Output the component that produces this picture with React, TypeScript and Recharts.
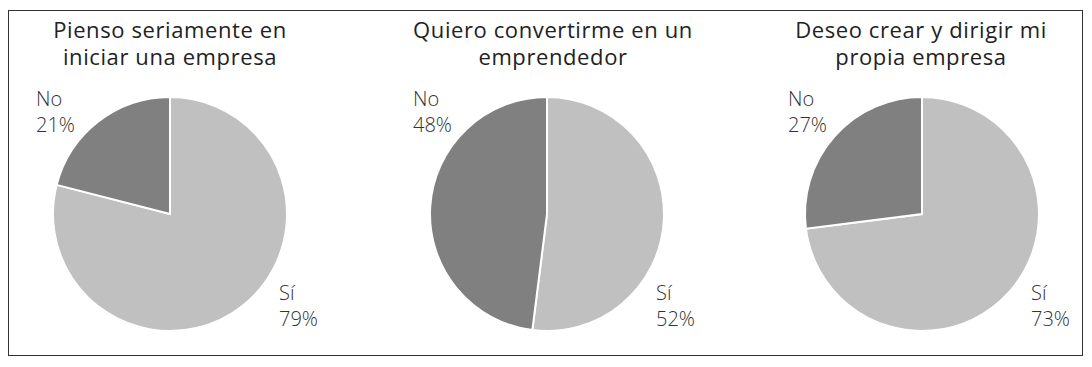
import React from 'react';
import { PieChart, Pie, Cell } from 'recharts';

const categories = ['Sí', 'No'];
const titles = [
    ['Pienso seriamente en', 'iniciar una empresa'],
    ['Quiero convertirme en un', 'emprendedor'],
    ['Deseo crear y dirigir mi', 'propia empresa'],
];
const piensoValues = [79, 21];
const quieroValues = [52, 48];
const deseoValues = [73, 27];

const seriesValues = [piensoValues, quieroValues, deseoValues];
const colors = ['#c0c0c0', '#808080'];

const W = 1075;
const H = 346;
const R = 117;
// pie centres, in chart coordinates (chart has a 5px default margin)
const centers = [156, 533, 908];
const titleCenters = [161, 544, 912];
const CY = 198;
const FONT = '"Open Sans", sans-serif';

const renderLabel = (props: any) => {
    const { cx, cy, outerRadius, name, value } = props;
    const isNo = name === 'No';
    const x = isNo ? cx - outerRadius - 17 : cx + outerRadius - 8;
    const y = isNo ? cy - outerRadius + 9 : cy + outerRadius - 31;
    return (
        <text x={x} y={y} fill="#333" fontSize={20} fontWeight={300} fontFamily={FONT}>
            <tspan x={x}>{name}</tspan>
            <tspan x={x} dy={26}>{`${value}%`}</tspan>
        </text>
    );
};

export default function App() {
    return (
        <div
            style={{
                position: 'relative',
                width: W,
                height: H,
                marginTop: 2,
                border: '1px solid #333',
                boxSizing: 'border-box',
                background: '#fff',
            }}
        >
            {titles.map((t, i) =>
                t.map((line, k) => (
                    <div
                        key={`${i}-${k}`}
                        style={{
                            position: 'absolute',
                            left: titleCenters[i] - 170,
                            width: 340,
                            top: 6 + k * 27,
                            height: 24,
                            textAlign: 'center',
                            fontFamily: FONT,
                            fontSize: 22,
                            letterSpacing: 0.6,
                            lineHeight: '24px',
                            color: '#222',
                            whiteSpace: 'nowrap',
                        }}
                    >
                        {line}
                    </div>
                ))
            )}
            <div style={{ position: 'absolute', left: 0, top: 0 }}>
                <PieChart width={W - 2} height={H - 2}>
                    {seriesValues.map((vals, i) => (
                        <Pie
                            key={i}
                            data={categories.map((c, j) => ({ name: c, value: vals[j] }))}
                            dataKey="value"
                            nameKey="name"
                            cx={centers[i]}
                            cy={CY}
                            outerRadius={R}
                            startAngle={90}
                            endAngle={-270}
                            stroke="#fff"
                            strokeWidth={2}
                            labelLine={false}
                            label={renderLabel}
                            isAnimationActive={false}
                        >
                            {categories.map((c, j) => (
                                <Cell key={c} fill={colors[j]} />
                            ))}
                        </Pie>
                    ))}
                </PieChart>
            </div>
        </div>
    );
}
